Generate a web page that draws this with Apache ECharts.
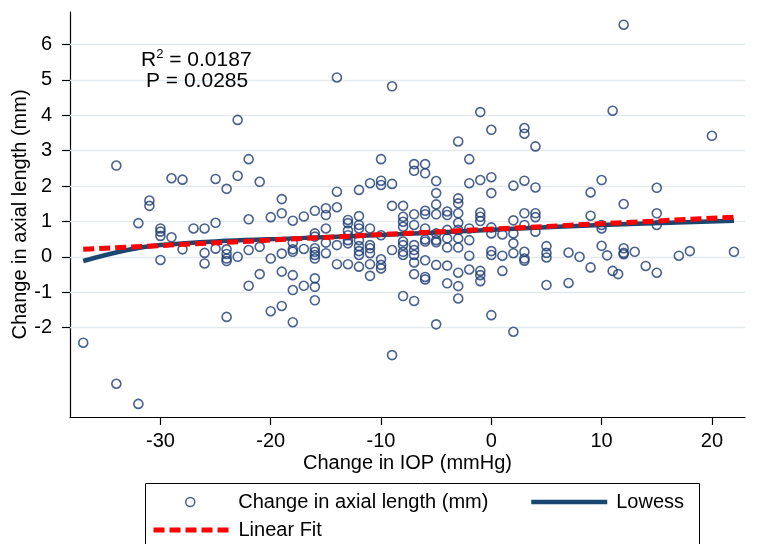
<!DOCTYPE html>
<html><head><meta charset="utf-8">
<script src="https://cdn.jsdelivr.net/npm/echarts@6/dist/echarts.min.js"></script>
<style>html,body{margin:0;padding:0;background:#fff}#c{width:758px;height:544px}</style>
</head><body><div id="c"></div>
<script>
// x values (change in IOP, mmHg) and the axial-length changes observed at each
const iopChange = [-37,-34,-32,-31,-30,-29,-28,-27,-26,-25,-24,-23,-22,-21,-20,-19,-18,-17,-16,-15,-14,-13,-12,-11,-10,-9,-8,-7,-6,-5,-4,-3,-2,-1,0,1,2,3,4,5,7,8,9,10,10.5,11,11.5,12,13,14,15,17,18,20,22];
const axialChange = [
  [-2.43],
  [2.58,-3.59],
  [0.95,-4.16],
  [1.59,1.44],
  [0.80,0.71,0.59,-0.09],
  [2.22,0.55],
  [2.18,0.21],
  [0.80],
  [0.80,0.11,-0.19],
  [2.20,0.96,0.23],
  [1.92,0.21,0.08,-0.05,-0.12,-1.70],
  [3.87,2.29,0.00],
  [2.76,1.06,0.19,-0.82],
  [2.12,0.28,-0.49],
  [1.12,-0.05,-1.54],
  [1.63,1.23,0.09,-0.42,-1.39],
  [1.02,0.40,0.21,0.14,-0.52,-0.94,-1.85],
  [1.14,0.22,-0.82],
  [1.30,0.66,0.57,0.24,0.14,0.05,-0.05,-0.61,-0.85,-1.23],
  [1.37,1.18,0.80,0.40,0.10],
  [5.07,1.84,1.40,0.33,-0.21],
  [1.04,0.95,0.74,0.61,0.47,0.38,-0.21],
  [1.89,1.15,0.90,0.80,0.47,0.30,0.16,0.05,-0.28],
  [2.08,0.80,0.33,0.24,0.10,-0.21,-0.54],
  [2.76,2.15,2.03,0.61,-0.07,-0.23,-0.33],
  [4.82,2.06,1.44,0.19,-2.78],
  [1.44,1.13,0.99,0.85,0.43,0.33,0.14,0.05,-1.11],
  [2.62,2.43,1.20,0.90,0.33,0.19,0.05,-0.16,-0.49,-1.25],
  [2.62,2.36,1.30,1.20,0.80,0.49,0.43,-0.10,-0.57,-0.64],
  [2.14,1.80,1.48,1.20,0.66,0.47,0.41,-0.23,-1.91],
  [1.28,1.18,0.76,0.52,0.26,-0.25,-0.75],
  [3.26,1.65,1.51,1.23,0.96,0.76,0.52,0.26,-0.45,-0.83,-1.18],
  [2.76,2.08,0.80,0.47,0.03,-0.36],
  [4.09,2.17,1.25,1.13,1.01,-0.40,-0.52,-0.69],
  [3.59,2.25,1.80,0.83,0.66,0.16,0.05,-1.65],
  [0.63,0.03,-0.40],
  [2.01,1.03,0.66,0.38,0.10,-2.12],
  [3.64,3.48,2.15,1.23,0.90,0.14,-0.05,-0.11],
  [3.12,1.96,1.23,1.12,0.71],
  [0.30,0.11,-0.02,-0.80],
  [0.12,-0.74],
  [0.00],
  [1.82,1.16,-0.30],
  [2.17,0.90,0.80,0.31],
  [0.04],
  [4.13,-0.40],
  [-0.49],
  [6.56,1.49,0.24,0.11,0.07],
  [0.14],
  [-0.26],
  [1.95,1.23,0.90,-0.45],
  [0.03],
  [0.16],
  [3.42],
  [0.14]
];
const lowessX = [-37,-33,-30,-24,-18,-9,2,10,22];
const lowessY = [-0.12,0.19,0.33,0.45,0.52,0.63,0.79,0.90,1.02];
const fitX = [-37,22];
const fitY = [0.21,1.12];
const xTicks = [-30,-20,-10,0,10,20];
const yTicks = [-2,-1,0,1,2,3,4,5,6];
const statR = 'R{s|2} = 0.0187';
const statP = 'P = 0.0285';
const names = ['Change in axial length (mm)','Lowess','Linear Fit'];

const FONT = "'Liberation Sans', Arial, sans-serif";
const scatterData = [];
iopChange.forEach((x,i)=>axialChange[i].forEach(y=>scatterData.push([x,y])));
const lowessData = lowessX.map((x,i)=>[x,lowessY[i]]);
const fitData = fitX.map((x,i)=>[x,fitY[i]]);

const chart = echarts.init(document.getElementById('c'));
chart.setOption({
  animation:false,
  backgroundColor:'#fff',
  grid:{left:70,right:13,top:12,bottom:127,outerBoundsMode:'none',containLabel:false},
  title:[
    {text:statR,left:136,top:43,textStyle:{fontFamily:FONT,fontSize:21,fontWeight:'normal',color:'#000',
      rich:{s:{fontFamily:FONT,fontSize:13,color:'#000',padding:[0,0,12,0]}}}},
    {text:statP,left:141,top:66,textStyle:{fontFamily:FONT,fontSize:21,fontWeight:'normal',color:'#000'}}
  ],
  graphic:[{type:'rect',left:143,top:481,shape:{width:554,height:80},style:{fill:'none',stroke:'#000',lineWidth:1},silent:true}],
  legend:[
    {data:[names[0]],left:185,top:492,padding:0,itemWidth:10,itemHeight:9,
      itemStyle:{borderWidth:1.5},
      textStyle:{fontFamily:FONT,fontSize:20,color:'#000',padding:[0,0,0,38]}},
    {data:[names[1]],left:529,top:492,padding:0,itemWidth:76,itemHeight:14,
      itemStyle:{opacity:0},lineStyle:{width:4.5},
      textStyle:{fontFamily:FONT,fontSize:20,color:'#000',padding:[0,0,0,4]}},
    {data:[names[2]],left:151,top:520,padding:0,itemWidth:76,itemHeight:14,
      itemStyle:{opacity:0},lineStyle:{width:5},
      textStyle:{fontFamily:FONT,fontSize:20,color:'#000',padding:[0,0,0,4]}}
  ],
  xAxis:{type:'value',min:-38.2,max:23.0,
    axisLine:{show:true,onZero:false,lineStyle:{color:'#000',width:1.2}},
    axisTick:{show:true,length:8,customValues:xTicks,lineStyle:{color:'#000',width:1.2}},
    axisLabel:{customValues:xTicks,margin:14,fontFamily:FONT,fontSize:20,color:'#000'},
    splitLine:{show:false},
    name:'Change in IOP (mmHg)',nameLocation:'middle',nameGap:36,nameMoveOverlap:false,
    nameTextStyle:{fontFamily:FONT,fontSize:20,color:'#000'}},
  yAxis:{type:'value',min:-4.53,max:6.92,
    axisLine:{show:true,onZero:false,lineStyle:{color:'#000',width:1.2}},
    axisTick:{show:true,length:8,customValues:yTicks,lineStyle:{color:'#000',width:1.2}},
    axisLabel:{customValues:yTicks,margin:18,fontFamily:FONT,fontSize:20,color:'#000'},
    splitLine:{show:false},
    name:'Change in axial length (mm)',nameLocation:'middle',nameGap:40,nameRotate:90,nameMoveOverlap:false,
    nameTextStyle:{fontFamily:FONT,fontSize:20,color:'#000'}},
  series:[
    {name:names[0],type:'scatter',data:scatterData,symbol:'circle',symbolSize:9,z:3,
      itemStyle:{color:'rgba(255,255,255,0)',borderColor:'#1b3a72',borderWidth:1.6},
      markLine:{silent:true,symbol:['none','none'],z:1,label:{show:false},
        lineStyle:{color:'#e2eaee',width:1.3,type:'solid'},
        data:yTicks.map(v=>({yAxis:v}))}},
    {name:names[1],type:'line',data:lowessData,smooth:0.4,showSymbol:false,symbol:'none',z:4,
      itemStyle:{color:'#1a476f'},
      lineStyle:{color:'#1a476f',width:4.5}},
    {name:names[2],type:'line',data:fitData,showSymbol:false,symbol:'none',z:5,
      itemStyle:{color:'#ff0000'},
      lineStyle:{color:'#ff0000',width:5,type:[11,5]}}
  ]
});
</script></body></html>
